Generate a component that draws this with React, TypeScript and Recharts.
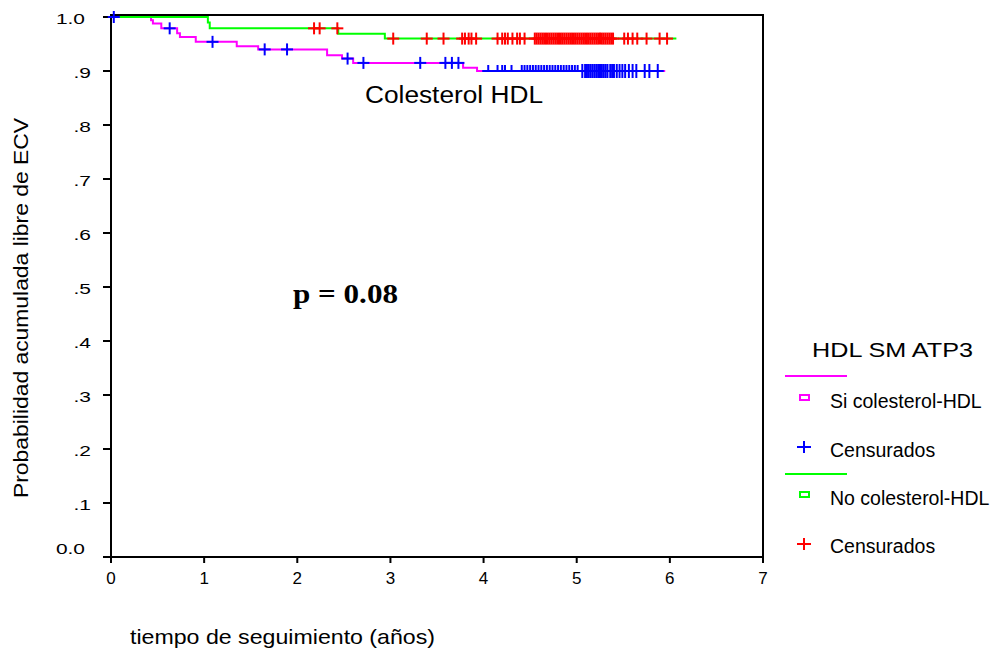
import { ComposedChart, Line, Scatter, XAxis, YAxis } from "recharts";

// curva Si colesterol-HDL (magenta) – tiempos de evento y supervivencia
const siTimes = [0, 0.43, 0.45, 0.54, 0.71, 0.74, 0.91, 1.35, 1.58, 2.32, 2.48, 2.6, 3.78, 3.93, 5.95];
const siSurv = [1, 0.994, 0.988, 0.979, 0.97, 0.963, 0.954, 0.946, 0.94, 0.929, 0.923, 0.915, 0.906, 0.9, 0.9];
// censurados (azul)
const siCens = [
  0.03, 0.63, 1.09, 1.65, 1.89, 2.54, 2.71, 3.32, 3.59, 3.66, 3.73,
  4.05, 4.15, 4.2, 4.23, 4.3, 4.41, 4.44, 4.47, 4.5, 4.53, 4.56, 4.59, 4.62, 4.65, 4.68, 4.71, 4.74,
  4.77, 4.8, 4.83, 4.86, 4.89, 4.92, 4.95, 4.98, 5.01, 5.06, 5.09, 5.11, 5.13, 5.15, 5.17, 5.19,
  5.21, 5.23, 5.25, 5.27, 5.29, 5.31, 5.33, 5.36, 5.38, 5.4, 5.43, 5.46, 5.49, 5.52, 5.56, 5.6,
  5.64, 5.73, 5.78, 5.87,
];

// curva No colesterol-HDL (verde)
const noTimes = [0, 1.04, 1.06, 2.44, 2.94, 6.07];
const noSurv = [1, 0.99, 0.979, 0.969, 0.96, 0.96];
// censurados (rojo)
const noCens = [
  2.18, 2.24, 2.43, 3.03, 3.39, 3.57, 3.77, 3.8, 3.84, 3.87, 3.92, 4.15, 4.2, 4.23, 4.26, 4.31,
  4.36, 4.39, 4.44, 4.55, 4.57, 4.59, 4.61, 4.63, 4.65, 4.67, 4.69, 4.71, 4.73, 4.75, 4.77, 4.79,
  4.81, 4.83, 4.85, 4.87, 4.89, 4.91, 4.93, 4.95, 4.97, 4.99, 5.01, 5.03, 5.05, 5.07, 5.09, 5.11,
  5.13, 5.15, 5.17, 5.19, 5.21, 5.23, 5.25, 5.27, 5.29, 5.31, 5.33, 5.35, 5.37, 5.39, 5.51, 5.55,
  5.6, 5.65, 5.75, 5.89, 5.97,
];

const xTicks = [0, 1, 2, 3, 4, 5, 6, 7];
const yTicks = [0, 0.1, 0.2, 0.3, 0.4, 0.5, 0.6, 0.7, 0.8, 0.9, 1];

const SANS = "'Liberation Sans', Arial, sans-serif";

// valor de la curva escalonada en t
const survAt = (times: number[], surv: number[], t: number) => {
  let s = surv[0];
  times.forEach((tt, i) => { if (tt <= t) s = surv[i]; });
  return s;
};

const siLine = siTimes.map((t, i) => ({ x: t, y: siSurv[i] }));
const noLine = noTimes.map((t, i) => ({ x: t, y: noSurv[i] }));
const siCensPts = siCens.map((t) => ({ x: t, y: survAt(siTimes, siSurv, t) }));
const noCensPts = noCens.map((t) => ({ x: t, y: survAt(noTimes, noSurv, t) }));

const Cross = (props: any) => {
  const { cx, cy, color, payload } = props;
  if (cx == null || cy == null) return null;
  // azul en 0.9 antes de 5.05 años: solo medio signo (como en la imagen)
  const half = color === "#0000ff" && payload && payload.y < 0.905 && payload.x < 5.05;
  const tall = color === "#0000ff" && payload && payload.y < 0.905 && payload.x >= 5.05;
  const up = tall ? 7 : 6;
  const down = half ? 0 : tall ? 7 : 6;
  return (
    <g stroke={color} strokeWidth={2}>
      <line x1={cx - 6} y1={cy} x2={cx + 6} y2={cy} />
      <line x1={cx} y1={cy - up} x2={cx} y2={cy + down} />
    </g>
  );
};

const YTick = (props: any) => {
  const { x, y, payload } = props;
  const v = payload.value;
  const lbl = v === 0 ? "0.0" : v === 1 ? "1.0" : "." + Math.round(v * 10);
  const dx = v === 0 || v === 1 ? -6 : 0;
  const dy = v === 0 ? -8 : 2;
  return (
    <text transform={`translate(${x + dx},${y + dy}) scale(1.35,1)`} textAnchor="end" dominantBaseline="central" fontSize={15.5} fontFamily={SANS} fill="#000">
      {lbl}
    </text>
  );
};

export default function App() {
  return (
    <div style={{ position: "absolute", left: 0, top: 0, width: 995, height: 653, background: "#fff" }}>
      <svg width={995} height={653} style={{ position: "absolute", left: 0, top: 0 }}>
        {/* marco superior y derecho (debajo de las curvas) */}
        <polyline points="111,18 111,15 763,15 763,557" fill="none" stroke="#000" strokeWidth={2} />
      </svg>
      <div style={{ position: "absolute", left: 0, top: 0 }}>
        <ComposedChart width={995} height={653} margin={{ top: 17, right: 232, left: 51, bottom: 66 }}>
          <XAxis type="number" dataKey="x" domain={[0, 7]} ticks={xTicks}
            axisLine={{ stroke: "#000", strokeWidth: 2 }} tickLine={{ stroke: "#000", strokeWidth: 2 }}
            tickSize={6} tickMargin={9} height={30}
            tick={{ fill: "#000", fontSize: 17, fontFamily: SANS }} />
          <YAxis type="number" dataKey="y" domain={[0, 1]} ticks={yTicks} width={60}
            axisLine={{ stroke: "#000", strokeWidth: 2 }} tickLine={{ stroke: "#000", strokeWidth: 2 }}
            tickSize={8} tickMargin={12} tick={<YTick />} />
          <Line data={siLine} dataKey="y" type="stepAfter" stroke="#ff00ff" strokeWidth={2} dot={false} isAnimationActive={false} />
          <Line data={noLine} dataKey="y" type="stepAfter" stroke="#00ff00" strokeWidth={2} dot={false} isAnimationActive={false} />
          <Scatter data={siCensPts} dataKey="y" isAnimationActive={false} shape={(p: any) => <Cross {...p} color="#0000ff" />} />
          <Scatter data={noCensPts} dataKey="y" isAnimationActive={false} shape={(p: any) => <Cross {...p} color="#ff0000" />} />
        </ComposedChart>
      </div>

      <svg width={995} height={653} style={{ position: "absolute", left: 0, top: 0, pointerEvents: "none" }} fontFamily={SANS}>
        {/* ejes */}
        <text transform="translate(28,308) rotate(-90)" textAnchor="middle" fontSize={21} textLength={380} lengthAdjust="spacingAndGlyphs">
          Probabilidad acumulada libre de ECV
        </text>
        <text x={130} y={644} fontSize={21} textLength={305} lengthAdjust="spacingAndGlyphs">tiempo de seguimiento (años)</text>

        {/* anotaciones */}
        <text x={365} y={103} fontSize={23} textLength={178} lengthAdjust="spacingAndGlyphs">Colesterol HDL</text>
        <text x={293} y={303} fontSize={27} fontWeight="bold" fontFamily="'Liberation Serif', 'Times New Roman', serif" textLength={105} lengthAdjust="spacingAndGlyphs">p = 0.08</text>

        {/* leyenda */}
        <text x={812} y={357} fontSize={21} textLength={161} lengthAdjust="spacingAndGlyphs">HDL SM ATP3</text>
        <line x1={785} y1={376} x2={847} y2={376} stroke="#ff00ff" strokeWidth={2} />
        <rect x={800} y={395} width={9} height={5} fill="none" stroke="#ff00ff" strokeWidth={2} />
        <text x={830} y={408} fontSize={19.5}>Si colesterol-HDL</text>
        <line x1={797} y1={447} x2={811} y2={447} stroke="#0000ff" strokeWidth={2} />
        <line x1={804} y1={441} x2={804} y2={453} stroke="#0000ff" strokeWidth={2} />
        <text x={830} y={457} fontSize={19.5}>Censurados</text>
        <line x1={785} y1={474} x2={847} y2={474} stroke="#00ff00" strokeWidth={2} />
        <rect x={800} y={492} width={9} height={5} fill="none" stroke="#00ff00" strokeWidth={2} />
        <text x={830} y={505} fontSize={19.5}>No colesterol-HDL</text>
        <line x1={797} y1={544} x2={811} y2={544} stroke="#ff0000" strokeWidth={2} />
        <line x1={804} y1={538} x2={804} y2={550} stroke="#ff0000" strokeWidth={2} />
        <text x={830} y={553} fontSize={19.5}>Censurados</text>
      </svg>
    </div>
  );
}
